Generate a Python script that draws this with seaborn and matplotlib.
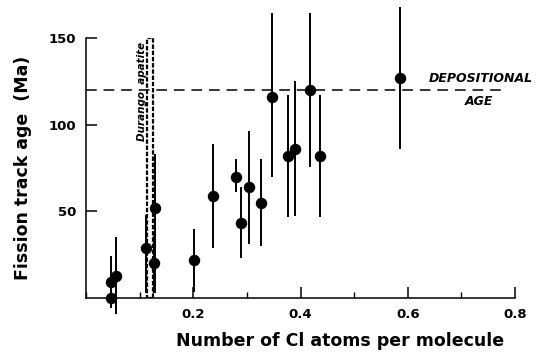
import matplotlib
matplotlib.use("Agg")
import matplotlib.pyplot as plt
import seaborn as sns
import pandas as pd
from matplotlib.patches import Rectangle
from matplotlib.ticker import MultipleLocator

# Data
cl_atoms = [0.047, 0.047, 0.056, 0.112, 0.129, 0.127, 0.202, 0.236, 0.279, 0.288,
            0.303, 0.327, 0.346, 0.377, 0.389, 0.417, 0.437, 0.585]
age = [9, 0, 13, 29, 52, 20, 22, 59, 70, 43, 64, 55, 116, 82, 86, 120, 82, 127]
age_low = [-6, -5, -9, 3, 3, 3, 3.5, 29, 61, 23, 31, 30, 70, 46.5, 47.5, 75.5, 46.5, 86]
age_high = [24, 5, 35, 48, 83, 35.5, 40, 89, 80, 64, 96.5, 80, 164.5, 117, 125, 164.5, 117, 168]

depositional_age = 120
durango_range = (0.114, 0.124)
durango_top = 150

x_ticks = [0.2, 0.4, 0.6, 0.8]
y_ticks = [50, 100, 150]

df = pd.DataFrame({"cl": cl_atoms, "age": age, "lo": age_low, "hi": age_high})

sns.set_style("ticks")
plt.rcParams["font.family"] = ["DejaVu Sans"]
plt.rcParams["text.color"] = "black"
plt.rcParams["axes.labelcolor"] = "black"
plt.rcParams["xtick.color"] = "black"
plt.rcParams["ytick.color"] = "black"

fig = plt.figure(figsize=(5.42, 3.54), dpi=100)
ax = fig.add_axes([0.159, 0.158, 0.791, 0.735])

# error bars
ax.vlines(df["cl"], df["lo"], df["hi"], colors="black", linewidth=1.4, clip_on=False, zorder=2)

sns.scatterplot(data=df, x="cl", y="age", ax=ax, color="black", s=68,
                edgecolor="black", linewidth=0, clip_on=False, zorder=3, legend=False)

# Durango apatite range
ax.add_patch(Rectangle((durango_range[0], 0), durango_range[1] - durango_range[0], durango_top,
                       facecolor="none", edgecolor="black", linewidth=1.6,
                       linestyle=(0, (2.0, 0.8)), zorder=1))
ax.text(durango_range[0] - 0.010, 119, "Durango  apatite", rotation=90, ha="center", va="center",
        fontsize=7.5, fontstyle="italic", fontweight="bold")

# depositional age line
ax.plot([0, 0.78], [depositional_age, depositional_age], color="black", linewidth=1.1,
        linestyle=(0, (7, 4.5)), zorder=1)
ax.text(0.639, depositional_age + 6.5, "DEPOSITIONAL", ha="left", va="center",
        fontsize=9, fontstyle="italic", fontweight="bold", clip_on=False)
ax.text(0.733, depositional_age - 6.5, "AGE", ha="center", va="center",
        fontsize=9, fontstyle="italic", fontweight="bold", clip_on=False)

ax.set_xlim(0, 0.8)
ax.set_ylim(0, 150)
ax.set_xticks(x_ticks)
ax.set_xticklabels([f"{t:.1f}" for t in x_ticks], fontweight="bold", fontsize=9.5)
ax.xaxis.set_minor_locator(MultipleLocator(0.1))
ax.set_yticks(y_ticks)
ax.set_yticklabels([str(t) for t in y_ticks], fontweight="bold", fontsize=9.5)
ax.tick_params(axis="both", which="major", direction="in", length=8, width=1.1, colors="black", pad=7)
ax.tick_params(axis="x", which="minor", direction="in", length=4, width=1.0, colors="black")

ax.set_xlabel("Number of Cl atoms per molecule", fontsize=12.5, fontweight="bold")
ax.xaxis.set_label_coords(0.593, -0.13)
ax.set_ylabel("Fission track age  (Ma)", fontsize=12.5, fontweight="bold", labelpad=12)

sns.despine(ax=ax)
for s in ["left", "bottom"]:
    ax.spines[s].set_linewidth(1.1)
    ax.spines[s].set_color("black")

fig.savefig("out.png", dpi=100)
